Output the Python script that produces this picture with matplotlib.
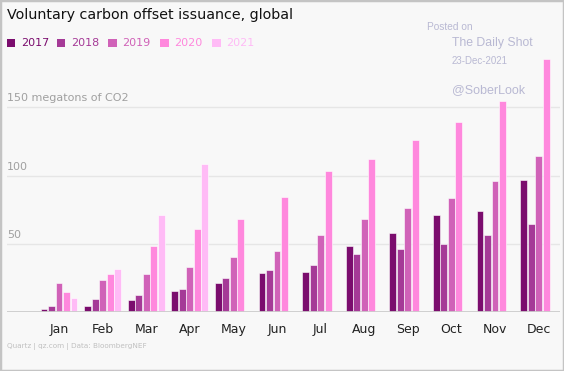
import numpy as np
import matplotlib.pyplot as plt
from matplotlib.patches import Rectangle

months = ["Jan", "Feb", "Mar", "Apr", "May", "Jun", "Jul", "Aug", "Sep", "Oct", "Nov", "Dec"]
years = ["2017", "2018", "2019", "2020", "2021"]
colors = ["#7b0d6e", "#a53a97", "#d062b8", "#ff88dd", "#ffbbf6"]

# megatons of CO2, cumulative by month
v2017 = [2.2, 4.6, 9.0, 15.4, 21.2, 28.5, 29.5, 48.8, 58.3, 71.5, 74.4, 96.6]
v2018 = [4.6, 9.5, 12.7, 16.8, 24.9, 30.7, 34.4, 42.7, 46.1, 50.0, 56.3, 64.9]
v2019 = [21.7, 23.7, 28.0, 33.0, 40.8, 44.7, 56.9, 68.6, 76.6, 83.9, 96.1, 114.1]
v2020 = [14.9, 28.0, 48.5, 61.0, 68.6, 84.4, 103.2, 112.0, 126.3, 139.3, 154.6, 185.4]
v2021 = [10.5, 31.7, 71.2, 108.3]
series = [v2017, v2018, v2019, v2020, v2021]

W, H = 564, 371
fig = plt.figure(figsize=(W / 100, H / 100), dpi=100)
bg = "#f8f8f8"
fig.patch.set_facecolor(bg)

# axes placement in pixels
left_px, right_px = 7, 560
base_px, top_px = 312.3, 39.1
ax = fig.add_axes([left_px / W, (H - base_px) / H, (right_px - left_px) / W, (base_px - top_px) / H])
ax.set_facecolor(bg)

step = 43.6
x0 = 59
ax.set_xlim((left_px - x0) / step, (right_px - x0) / step)
ax.set_ylim(0, 200)

bw = 7.5 / step
for k, (vals, c) in enumerate(zip(series, colors)):
    xs = np.arange(len(vals)) + (k - 2) * bw
    ax.bar(xs, vals, width=bw * 0.92, color=c, edgecolor="#ffffff", linewidth=0.4, zorder=3)

for g in [50, 100, 150]:
    ax.axhline(g, color="#e6e6e6", lw=1, zorder=1)
ax.axhline(0, color="#cccccc", lw=2, zorder=4)

font = "DejaVu Sans"
ax.text(0, 150 + 3, "150 megatons of CO2", transform=ax.get_yaxis_transform(), color="#a0a0a0",
        fontsize=8, family=font, va="bottom", ha="left")
for g in [100, 50]:
    ax.text(0, g + 3, str(g), transform=ax.get_yaxis_transform(), color="#a0a0a0",
            fontsize=8, family=font, va="bottom", ha="left")

for s in ax.spines.values():
    s.set_visible(False)
ax.set_yticks([])
ax.set_xticks(range(12))
ax.set_xticklabels(months, fontsize=9, family=font, color="#222222")
ax.tick_params(axis="x", length=0, pad=8)

fig.text(7 / W, 1 - 15 / H, "Voluntary carbon offset issuance, global", fontsize=10.3,
         family=font, color="#111111", va="center", ha="left")

leg_x = [7, 57, 108, 160, 212]
for lx, y, c in zip(leg_x, years, colors):
    fig.patches.append(Rectangle((lx / W, 1 - 47 / H), 8.5 / W, 8.5 / H, transform=fig.transFigure,
                                 facecolor=c, edgecolor="none"))
    fig.text((lx + 14) / W, 1 - 42.5 / H, y, fontsize=8, family=font, color=c,
             va="center", ha="left")

wm = "#b9b9d3"
fig.text(427 / W, 1 - 27 / H, "Posted on", fontsize=7.3, family="Liberation Sans", color=wm, va="center")
fig.text(452 / W, 1 - 43 / H, "The Daily Shot", fontsize=8.8, family="Liberation Sans", color=wm, va="center")
fig.text(452 / W, 1 - 61 / H, "23-Dec-2021", fontsize=7, family="Liberation Sans", color=wm, va="center")
fig.text(452 / W, 1 - 90 / H, "@SoberLook", fontsize=9, family="Liberation Sans", color=wm, va="center")

fig.text(7 / W, 1 - 346 / H, "Quartz | qz.com | Data: BloombergNEF", fontsize=5.2, family=font,
         color="#c0c0c0", va="center", ha="left")

fig.patches.append(Rectangle((0, 0), 1, 1, transform=fig.transFigure, facecolor="none",
                             edgecolor="#c4c4c4", linewidth=2.5))

fig.savefig("out.png", dpi=100, facecolor=bg)
